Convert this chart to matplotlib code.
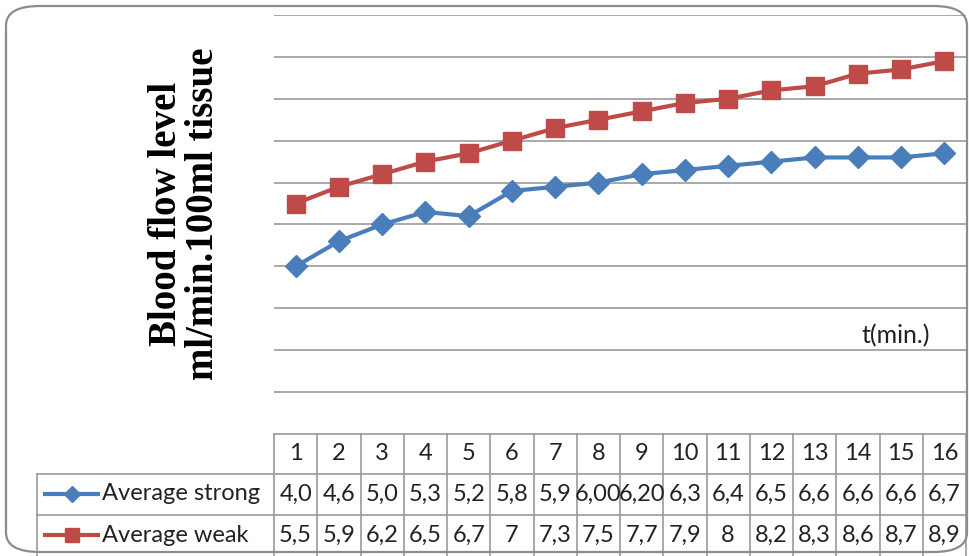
import numpy as np
import matplotlib
matplotlib.use("Agg")
from matplotlib import pyplot as plt
from matplotlib.patches import FancyBboxPatch
from matplotlib.lines import Line2D
import matplotlib.transforms as mtransforms

# data
minutes = list(range(1, 17))
strong = [4.0, 4.6, 5.0, 5.3, 5.2, 5.8, 5.9, 6.0, 6.2, 6.3, 6.4, 6.5, 6.6, 6.6, 6.6, 6.7]
weak = [5.5, 5.9, 6.2, 6.5, 6.7, 7, 7.3, 7.5, 7.7, 7.9, 8, 8.2, 8.3, 8.6, 8.7, 8.9]
strong_txt = ["4,0", "4,6", "5,0", "5,3", "5,2", "5,8", "5,9", "6,00", "6,20",
              "6,3", "6,4", "6,5", "6,6", "6,6", "6,6", "6,7"]
weak_txt = ["5,5", "5,9", "6,2", "6,5", "6,7", "7", "7,3", "7,5", "7,7",
            "7,9", "8", "8,2", "8,3", "8,6", "8,7", "8,9"]
series_names = ["Average strong", "Average weak"]

W, H = 969, 556
blue = "#4a7ebb"
red = "#be4b48"
grid_c = "#9a9a9a"
tfont = "Lato"
tsize = 17

fig = plt.figure(figsize=(W / 100, H / 100), dpi=100)

def fy(py):
    return 1 - py / H

def fx(px):
    return px / W

# rounded chart border
frame = FancyBboxPatch((fx(6), fy(552)), fx(961), (546) / H,
                       boxstyle="round,pad=0,rounding_size=0.035",
                       transform=fig.transFigure, fill=False,
                       edgecolor="#8c8c8c", linewidth=1.6, zorder=0)
fig.patches.append(frame)

ax = fig.add_axes([fx(274), fy(434), fx(966 - 274), (434 - 15) / H])
ax.set_xlim(0.5, 16.5)
ax.set_ylim(0, 10)
for s in ax.spines.values():
    s.set_visible(False)
ax.set_xticks([])
ax.set_yticks(np.arange(1, 11))
ax.set_yticklabels([])
ax.tick_params(axis="y", length=0)
ax.yaxis.grid(True, color=grid_c, linewidth=1.2)
ax.set_axisbelow(True)

ax.plot(minutes, strong, color=blue, lw=3, marker="D", ms=11, mec=blue, clip_on=False)
ax.plot(minutes, weak, color=red, lw=3, marker="s", ms=12.5, mec=red, clip_on=False)

ax.text(0.948, 0.235, "t(min.)", transform=ax.transAxes, ha="right", va="center",
        fontsize=18, family=tfont, color="#222222")

fig.text(fx(185), fy(214), "Blood flow level\nml/min.100ml tissue", rotation=90,
         ha="center", va="center", multialignment="center", fontsize=28,
         fontweight="bold", family="Liberation Serif", linespacing=1.02)

# data table under the plot
tr = mtransforms.blended_transform_factory(ax.transData, fig.transFigure)
row_edges = [434, 474, 515, 560]
lc = "#9a9a9a"
# horizontal lines
fig.add_artist(Line2D([fx(274), fx(966)], [fy(434)] * 2, color=lc, lw=1.2))
for py in row_edges[1:3]:
    fig.add_artist(Line2D([fx(37), fx(966)], [fy(py)] * 2, color=lc, lw=1.2))
# vertical lines
for xe in np.arange(0.5, 17.0, 1.0):
    ax.add_artist(Line2D([xe, xe], [fy(434), fy(560)], color=lc, lw=1.2,
                         transform=tr, clip_on=False))
fig.add_artist(Line2D([fx(37), fx(37)], [fy(474), fy(560)], color=lc, lw=1.2))

rows = [[str(m) for m in minutes], strong_txt, weak_txt]
for r, labels in enumerate(rows):
    yc = fy((row_edges[r] + row_edges[r + 1]) / 2) if r < 2 else fy(535)
    for m, lab in zip(minutes, labels):
        ax.text(m, yc, lab, transform=tr, ha="center", va="center",
                fontsize=tsize, family=tfont, color="#222222", clip_on=False)

# legend keys in the table
for name, col, mk, ms, py in [(series_names[0], blue, "D", 8, 494),
                              (series_names[1], red, "s", 10, 535)]:
    fig.add_artist(Line2D([fx(45), fx(98)], [fy(py)] * 2, color=col, lw=3))
    fig.add_artist(Line2D([fx(72)], [fy(py)], color=col, marker=mk, ms=ms, mec=col))
    fig.text(fx(102), fy(py), name, ha="left", va="center", fontsize=tsize,
             family=tfont, color="#222222")

fig.savefig("out.png", dpi=100)
